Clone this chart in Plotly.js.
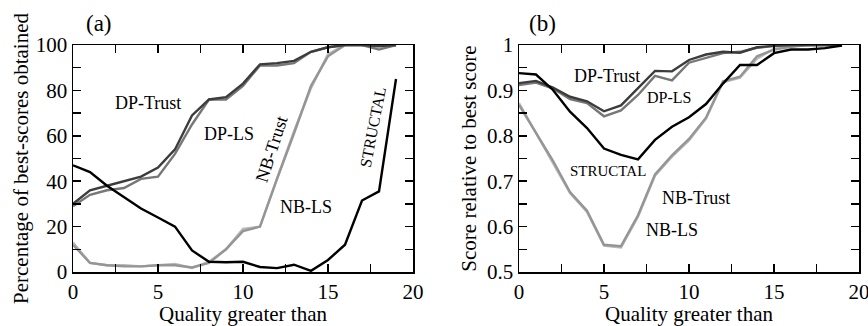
<!DOCTYPE html>
<html>
<head>
<meta charset="utf-8">
<script src="https://cdn.plot.ly/plotly-3.0.1.min.js"></script>
<style>html,body{margin:0;padding:0;background:#fff;}#chart{width:868px;height:326px;}</style>
</head>
<body>
<div id="chart"></div>
<script>
// Quality threshold (x)
const quality = [0,1,2,3,4,5,6,7,8,9,10,11,12,13,14,15,16,17,18,19];

// Panel (a): percentage of best-scores obtained
const aDPTrust  = [30, 36, 38, 40, 42, 46, 54, 69, 76, 77, 83, 91.5, 92, 93, 97, 99, 100, 100, 99.5, 100];
const aDPLS     = [29, 34, 36, 37, 41, 42, 52, 65, 76, 76, 82, 91, 91, 92, 97, 99, 100, 100, 98, 100];
const aNBTrust  = [12, 4, 3, 2.5, 2.5, 3, 3, 2, 4, 10, 18, 20, 41, 61, 82, 95, 100, 100, 100, 100];
const aNBLS     = [13, 4, 3, 3, 2.5, 3, 3.5, 1.8, 4.5, 10, 19, 20, 41, 62, 81, 96, 100, 100, 99, 100];
const aStructal = [47, 44, 38, 33, 28, 24, 20, 9.5, 4.5, 4.3, 4.5, 2.2, 1.7, 3.2, 0.5, 5.3, 12, 31.5, 35.5, 85];

// Panel (b): score relative to best score
const bDPTrust  = [0.916, 0.921, 0.906, 0.886, 0.876, 0.854, 0.867, 0.905, 0.943, 0.942, 0.967, 0.979, 0.985, 0.983, 0.995, 0.998, 1, 1, 1, 1];
const bDPLS     = [0.912, 0.917, 0.904, 0.881, 0.872, 0.843, 0.856, 0.890, 0.932, 0.922, 0.961, 0.972, 0.982, 0.985, 0.994, 0.998, 1, 1, 1, 1];
const bNBTrust  = [0.868, 0.808, 0.745, 0.676, 0.635, 0.560, 0.557, 0.625, 0.715, 0.757, 0.793, 0.840, 0.920, 0.930, 0.975, 0.990, 0.996, 1, 1, 1];
const bNBLS     = [0.872, 0.806, 0.742, 0.674, 0.632, 0.558, 0.554, 0.622, 0.712, 0.754, 0.790, 0.838, 0.918, 0.928, 0.970, 0.992, 0.997, 1, 1, 1];
const bStructal = [0.938, 0.935, 0.901, 0.853, 0.817, 0.772, 0.758, 0.748, 0.791, 0.820, 0.841, 0.870, 0.915, 0.956, 0.956, 0.982, 0.990, 0.990, 0.993, 0.999];

// Tick labels
const xTickVals = [0, 2.5, 5, 7.5, 10, 12.5, 15, 17.5, 20];
const xTickText = ["0", "", "5", "", "10", "", "15", "", "20"];
const aYTickVals = [0,10,20,30,40,50,60,70,80,90,100];
const aYTickText = ["0","","20","","40","","60","","80","","100"];
const bYTickVals = [0.5,0.55,0.6,0.65,0.7,0.75,0.8,0.85,0.9,0.95,1];
const bYTickText = ["0.5","","0.6","","0.7","","0.8","","0.9","","1"];

const FONT = "'Liberation Serif', 'Times New Roman', serif";
const colors = {DPTrust:"#3c3c3c", DPLS:"#777777", NBTrust:"#959595", NBLS:"#bababa", STRUCTAL:"#000000"};
const LW = 2.4;

function tr(y, name, color, xa, ya){
  return {x: quality, y: y, name: name, type:"scatter", mode:"lines",
          line:{color: color, width: LW}, xaxis: xa, yaxis: ya, showlegend:false, hoverinfo:"skip"};
}

const data = [
  tr(aNBLS, "NB-LS", colors.NBLS, "x", "y"),
  tr(aNBTrust, "NB-Trust", colors.NBTrust, "x", "y"),
  tr(aDPLS, "DP-LS", colors.DPLS, "x", "y"),
  tr(aDPTrust, "DP-Trust", colors.DPTrust, "x", "y"),
  tr(aStructal, "STRUCTAL", colors.STRUCTAL, "x", "y"),
  tr(bNBLS, "NB-LS", colors.NBLS, "x2", "y2"),
  tr(bNBTrust, "NB-Trust", colors.NBTrust, "x2", "y2"),
  tr(bDPLS, "DP-LS", colors.DPLS, "x2", "y2"),
  tr(bDPTrust, "DP-Trust", colors.DPTrust, "x2", "y2"),
  tr(bStructal, "STRUCTAL", colors.STRUCTAL, "x2", "y2")
];

const W = 868, H = 326;
const yDom = [1 - 272/H, 1 - 45/H];

function axisCommon(){
  return {showline:true, mirror:"ticks", linecolor:"#000", linewidth:1.5,
          ticks:"inside", ticklen:8, tickwidth:1.5, tickcolor:"#000",
          showgrid:false, zeroline:false, fixedrange:true, ticklabeloverflow:"allow",
          tickfont:{family:FONT, size:21, color:"#000"}};
}

function ann(text, xref, yref, x, y, size, angle){
  return {text:text, xref:xref, yref:yref, x:x, y:y, showarrow:false,
          xanchor:"center", yanchor:"middle", textangle:angle||0,
          font:{family:FONT, size:size, color:"#000"}};
}

const layout = {
  width: W, height: H,
  margin:{l:0, r:0, t:0, b:0},
  paper_bgcolor:"#fff", plot_bgcolor:"#fff",
  font:{family:FONT, color:"#000"},
  xaxis: Object.assign(axisCommon(), {domain:[73/W, 413/W], range:[0,20], tickmode:"array",
    tickvals:xTickVals, ticktext:xTickText, anchor:"y",
    title:{text:"Quality greater than", font:{family:FONT, size:21, color:"#000"}, standoff:6}}),
  yaxis: Object.assign(axisCommon(), {domain:yDom, range:[0,100], tickmode:"array",
    tickvals:aYTickVals, ticktext:aYTickText, anchor:"x",
    title:{text:"Percentage of best-scores obtained", font:{family:FONT, size:21, color:"#000"}, standoff:1}}),
  xaxis2: Object.assign(axisCommon(), {domain:[519/W, 859/W], range:[0,20], tickmode:"array",
    tickvals:xTickVals, ticktext:xTickText, anchor:"y2",
    title:{text:"Quality greater than", font:{family:FONT, size:21, color:"#000"}, standoff:6}}),
  yaxis2: Object.assign(axisCommon(), {domain:yDom, range:[0.5,1], tickmode:"array",
    tickvals:bYTickVals, ticktext:bYTickText, anchor:"x2",
    title:{text:"Score relative to best score", font:{family:FONT, size:21, color:"#000"}, standoff:4}}),
  annotations: [
    ann("(a)", "paper", "paper", 99/W, 1-23/H, 23),
    ann("(b)", "paper", "paper", 542/W, 1-23/H, 23),
    ann("DP-Trust", "x", "y", 4.4, 74.5, 18),
    ann("DP-LS", "x", "y", 9.2, 61, 18),
    ann("NB-Trust", "x", "y", 11.7, 54, 18, -72),
    ann("NB-LS", "x", "y", 13.7, 28.7, 18),
    ann("STRUCTAL", "x", "y", 17.65, 63.5, 16, -79),
    ann("DP-Trust", "x2", "y2", 5.18, 0.932, 18),
    ann("DP-LS", "x2", "y2", 8.82, 0.885, 16),
    ann("STRUCTAL", "x2", "y2", 5.24, 0.723, 15),
    ann("NB-Trust", "x2", "y2", 10.43, 0.664, 18),
    ann("NB-LS", "x2", "y2", 9.0, 0.592, 18)
  ]
};

Plotly.newPlot("chart", data, layout, {displayModeBar:false, staticPlot:true});
</script>
</body>
</html>
